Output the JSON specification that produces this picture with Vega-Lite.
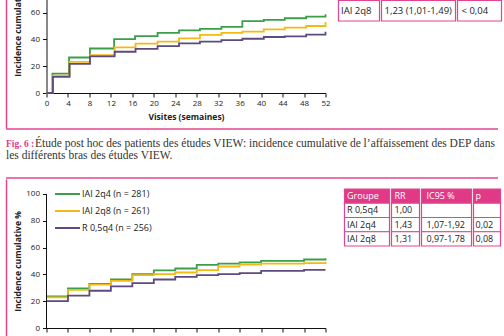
{
  "$schema": "https://vega.github.io/schema/vega-lite/v6.json",
  "padding": {"left": 5, "top": -45, "right": 0, "bottom": 0},
  "background": "white",
  "config": {
    "view": {"stroke": null},
    "font": "Open Sans",
    "axis": {"labelFont": "Open Sans", "labelFontSize": 8, "labelColor": "#222", "labelOverlap": false, "titleFont": "Open Sans", "titleFontSize": 8.5, "titleFontWeight": "bold", "titleColor": "#222", "domainColor": "#111", "tickColor": "#111", "tickSize": 4, "grid": false}
  },
  "datasets": {
    "one": [{"v": 0}],
    "top": [
      {"g": "IAI 2q4", "w": 0, "v": 0}, {"g": "IAI 2q4", "w": 1.1, "v": 14.5}, {"g": "IAI 2q4", "w": 4.2, "v": 26.5}, {"g": "IAI 2q4", "w": 8.1, "v": 33.2}, {"g": "IAI 2q4", "w": 12.6, "v": 40.2}, {"g": "IAI 2q4", "w": 16.5, "v": 42.5}, {"g": "IAI 2q4", "w": 20.7, "v": 44.8}, {"g": "IAI 2q4", "w": 24.7, "v": 46.8}, {"g": "IAI 2q4", "w": 28.6, "v": 47.8}, {"g": "IAI 2q4", "w": 32.6, "v": 49.3}, {"g": "IAI 2q4", "w": 36.5, "v": 53.6}, {"g": "IAI 2q4", "w": 40.5, "v": 54.5}, {"g": "IAI 2q4", "w": 44.4, "v": 55.8}, {"g": "IAI 2q4", "w": 48.4, "v": 57}, {"g": "IAI 2q4", "w": 52, "v": 58.8},
      {"g": "IAI 2q8", "w": 0, "v": 0}, {"g": "IAI 2q8", "w": 1.2, "v": 13}, {"g": "IAI 2q8", "w": 4.3, "v": 23.2}, {"g": "IAI 2q8", "w": 8.1, "v": 28.3}, {"g": "IAI 2q8", "w": 12.7, "v": 34}, {"g": "IAI 2q8", "w": 16.6, "v": 36.8}, {"g": "IAI 2q8", "w": 20.7, "v": 38.3}, {"g": "IAI 2q8", "w": 24.7, "v": 40.8}, {"g": "IAI 2q8", "w": 28.6, "v": 43.4}, {"g": "IAI 2q8", "w": 32.6, "v": 44.8}, {"g": "IAI 2q8", "w": 36.5, "v": 45.8}, {"g": "IAI 2q8", "w": 40.5, "v": 47.5}, {"g": "IAI 2q8", "w": 44.4, "v": 48.8}, {"g": "IAI 2q8", "w": 48.4, "v": 50}, {"g": "IAI 2q8", "w": 52, "v": 53},
      {"g": "R 0,5q4", "w": 0, "v": 0}, {"g": "R 0,5q4", "w": 1.2, "v": 12}, {"g": "R 0,5q4", "w": 4.3, "v": 21.7}, {"g": "R 0,5q4", "w": 8.1, "v": 27.3}, {"g": "R 0,5q4", "w": 12.7, "v": 30.8}, {"g": "R 0,5q4", "w": 16.6, "v": 33}, {"g": "R 0,5q4", "w": 20.7, "v": 35}, {"g": "R 0,5q4", "w": 24.7, "v": 37}, {"g": "R 0,5q4", "w": 28.6, "v": 38.3}, {"g": "R 0,5q4", "w": 32.6, "v": 39.5}, {"g": "R 0,5q4", "w": 36.5, "v": 40.5}, {"g": "R 0,5q4", "w": 40.5, "v": 41.8}, {"g": "R 0,5q4", "w": 44.4, "v": 42.3}, {"g": "R 0,5q4", "w": 48.4, "v": 43.5}, {"g": "R 0,5q4", "w": 52, "v": 45.8}
    ],
    "bottom": [
      {"g": "IAI 2q4 (n = 281)", "w": 0, "v": 23.5}, {"g": "IAI 2q4 (n = 281)", "w": 4, "v": 29.5}, {"g": "IAI 2q4 (n = 281)", "w": 8, "v": 33}, {"g": "IAI 2q4 (n = 281)", "w": 12, "v": 36.2}, {"g": "IAI 2q4 (n = 281)", "w": 16, "v": 40.2}, {"g": "IAI 2q4 (n = 281)", "w": 20, "v": 43}, {"g": "IAI 2q4 (n = 281)", "w": 24, "v": 44.4}, {"g": "IAI 2q4 (n = 281)", "w": 28, "v": 47.1}, {"g": "IAI 2q4 (n = 281)", "w": 32, "v": 48.1}, {"g": "IAI 2q4 (n = 281)", "w": 36, "v": 48.9}, {"g": "IAI 2q4 (n = 281)", "w": 40, "v": 50.1}, {"g": "IAI 2q4 (n = 281)", "w": 48, "v": 51.1}, {"g": "IAI 2q4 (n = 281)", "w": 52, "v": 52.1},
      {"g": "IAI 2q8 (n = 261)", "w": 0, "v": 22.8}, {"g": "IAI 2q8 (n = 261)", "w": 4, "v": 28.5}, {"g": "IAI 2q8 (n = 261)", "w": 8, "v": 32.3}, {"g": "IAI 2q8 (n = 261)", "w": 12, "v": 35.2}, {"g": "IAI 2q8 (n = 261)", "w": 16, "v": 39.5}, {"g": "IAI 2q8 (n = 261)", "w": 20, "v": 40.2}, {"g": "IAI 2q8 (n = 261)", "w": 24, "v": 41.4}, {"g": "IAI 2q8 (n = 261)", "w": 28, "v": 43.2}, {"g": "IAI 2q8 (n = 261)", "w": 32, "v": 45.9}, {"g": "IAI 2q8 (n = 261)", "w": 36, "v": 47.4}, {"g": "IAI 2q8 (n = 261)", "w": 40, "v": 48.1}, {"g": "IAI 2q8 (n = 261)", "w": 48, "v": 48.4}, {"g": "IAI 2q8 (n = 261)", "w": 52, "v": 49.4},
      {"g": "R 0,5q4 (n = 256)", "w": 0, "v": 20.1}, {"g": "R 0,5q4 (n = 256)", "w": 4, "v": 24.1}, {"g": "R 0,5q4 (n = 256)", "w": 8, "v": 27.8}, {"g": "R 0,5q4 (n = 256)", "w": 12, "v": 31}, {"g": "R 0,5q4 (n = 256)", "w": 16, "v": 33.5}, {"g": "R 0,5q4 (n = 256)", "w": 20, "v": 36.2}, {"g": "R 0,5q4 (n = 256)", "w": 24, "v": 38.2}, {"g": "R 0,5q4 (n = 256)", "w": 28, "v": 39.5}, {"g": "R 0,5q4 (n = 256)", "w": 32, "v": 40.2}, {"g": "R 0,5q4 (n = 256)", "w": 36, "v": 41}, {"g": "R 0,5q4 (n = 256)", "w": 40, "v": 42.7}, {"g": "R 0,5q4 (n = 256)", "w": 48, "v": 43.4}, {"g": "R 0,5q4 (n = 256)", "w": 52, "v": 43.4}
    ],
    "toptable": [
      {"col": "c1", "row": "r", "text": "IAI 2q8"},
      {"col": "c2", "row": "r", "text": "1,23 (1,01-1,49)"},
      {"col": "c3", "row": "r", "text": "< 0,04"}
    ],
    "bottable": [
      {"col": "Groupe", "row": "h", "text": "Groupe"}, {"col": "RR", "row": "h", "text": "RR"}, {"col": "IC", "row": "h", "text": "IC95 %"}, {"col": "p", "row": "h", "text": "p"},
      {"col": "Groupe", "row": "1", "text": "R 0,5q4"}, {"col": "RR", "row": "1", "text": "1,00"}, {"col": "IC", "row": "1", "text": ""}, {"col": "p", "row": "1", "text": ""},
      {"col": "Groupe", "row": "2", "text": "IAI 2q4"}, {"col": "RR", "row": "2", "text": "1,43"}, {"col": "IC", "row": "2", "text": "1,07-1,92"}, {"col": "p", "row": "2", "text": "0,02"},
      {"col": "Groupe", "row": "3", "text": "IAI 2q8"}, {"col": "RR", "row": "3", "text": "1,31"}, {"col": "IC", "row": "3", "text": "0,97-1,78"}, {"col": "p", "row": "3", "text": "0,08"}
    ],
    "caption": [
      {"part": "label", "line": 1, "text": "Fig. 6 :"},
      {"part": "body1", "line": 1, "text": "Étude post hoc des patients des études VIEW: incidence cumulative de l’affaissement des DEP dans"},
      {"part": "body2", "line": 2, "text": "les différents bras des études VIEW."}
    ]
  },
  "spacing": 0,
  "resolve": {"scale": {"color": "independent"}, "legend": {"color": "independent"}},
  "vconcat": [
    {
      "spacing": 5.5,
      "resolve": {"scale": {"color": "independent"}, "legend": {"color": "independent"}},
      "hconcat": [
        {"width": 1, "height": 169, "data": {"name": "one"}, "mark": {"type": "point", "size": 0, "opacity": 0},
         "encoding": {"y": {"field": "v", "type": "quantitative", "scale": {"domain": [0, 1]}, "axis": {"orient": "left", "domainColor": "#e2458e", "domainWidth": 1.5, "ticks": false, "labels": false, "title": null}}}},
        {
          "spacing": 7,
          "hconcat": [
            {
              "width": 279, "height": 134,
              "data": {"name": "top"},
              "mark": {"type": "line", "interpolate": "step-after", "strokeWidth": 1.8},
              "encoding": {
                "x": {"field": "w", "type": "quantitative", "scale": {"domain": [0, 52], "nice": false}, "axis": {"values": [0,4,8,12,16,20,24,28,32,36,40,44,48,52], "labelFlush": false, "labelOverlap": false, "title": "Visites (semaines)", "titlePadding": 5, "labelPadding": 2}},
                "y": {"field": "v", "type": "quantitative", "scale": {"domain": [0, 100], "nice": false}, "axis": {"values": [0,20,40,60,80,100], "labelOverlap": false, "title": "Incidence cumulative %", "minExtent": 21, "maxExtent": 21, "titlePadding": 3.5, "labelPadding": 3}},
                "color": {"field": "g", "type": "nominal", "scale": {"domain": ["IAI 2q4", "IAI 2q8", "R 0,5q4"], "range": ["#3a9e4a", "#f5b914", "#5d4a80"]}, "legend": null}
              }
            },
            {
              "spacing": 3.5,
              "hconcat": [
                {
                  "spacing": 0,
                  "hconcat": [
                    {"width": 41, "height": 62, "data": {"name": "toptable"}, "transform": [{"filter": "datum.col == 'c1'"}],
                     "encoding": {"y": {"field": "row", "type": "nominal", "scale": {"domain": ["r"], "paddingInner": 0, "paddingOuter": 1.32, "align": 1}, "axis": null}},
                     "layer": [
                       {"mark": {"type": "rect", "fill": "white", "stroke": "#e2458e", "strokeWidth": 1.2}},
                       {"mark": {"type": "text", "align": "left", "baseline": "middle", "dx": 2.5, "font": "Open Sans", "fontSize": 9.5, "color": "#222"}, "encoding": {"x": {"value": 0}, "text": {"field": "text"}}}
                     ]},
                    {"width": 74, "height": 62, "data": {"name": "toptable"}, "transform": [{"filter": "datum.col == 'c2'"}],
                     "encoding": {"y": {"field": "row", "type": "nominal", "scale": {"domain": ["r"], "paddingInner": 0, "paddingOuter": 1.32, "align": 1}, "axis": null}},
                     "layer": [
                       {"mark": {"type": "rect", "fill": "white", "stroke": "#e2458e", "strokeWidth": 1.2}},
                       {"mark": {"type": "text", "align": "left", "baseline": "middle", "dx": 3, "font": "Open Sans", "fontSize": 9.5, "color": "#222"}, "encoding": {"x": {"value": 0}, "text": {"field": "text"}}}
                     ]},
                    {"width": 44, "height": 62, "data": {"name": "toptable"}, "transform": [{"filter": "datum.col == 'c3'"}],
                     "encoding": {"y": {"field": "row", "type": "nominal", "scale": {"domain": ["r"], "paddingInner": 0, "paddingOuter": 1.32, "align": 1}, "axis": null}},
                     "layer": [
                       {"mark": {"type": "rect", "fill": "white", "stroke": "#e2458e", "strokeWidth": 1.2}},
                       {"mark": {"type": "text", "align": "left", "baseline": "middle", "dx": 4, "font": "Open Sans", "fontSize": 9.5, "color": "#222"}, "encoding": {"x": {"value": 0}, "text": {"field": "text"}}}
                     ]}
                  ]
                },
                {"width": 1, "height": 169, "data": {"name": "one"}, "mark": {"type": "point", "size": 0, "opacity": 0},
                 "encoding": {"y": {"field": "v", "type": "quantitative", "scale": {"domain": [0, 1]}, "axis": {"orient": "left", "domainColor": "#e2458e", "domainWidth": 1.5, "ticks": false, "labels": false, "title": null}}}}
              ]
            }
          ]
        }
      ]
    },
    {
      "width": 492, "height": 49,
      "view": {"stroke": "#e2458e", "strokeWidth": 1.5, "strokeDash": [492, 49], "fill": null},
      "data": {"name": "caption"},
      "layer": [
        {"transform": [{"filter": "datum.part == 'label'"}],
         "mark": {"type": "text", "align": "left", "baseline": "middle", "font": "Liberation Serif", "fontSize": 9.5, "fontWeight": "bold", "color": "#e03a87"},
         "encoding": {
           "x": {"datum": 0, "type": "quantitative", "scale": {"domain": [0, 1]}, "axis": null},
           "y": {"field": "line", "type": "quantitative", "scale": {"domain": [-0.25, 3.833], "reverse": true, "nice": false, "zero": false}, "axis": null},
           "text": {"field": "text"}}},
        {"transform": [{"filter": "datum.part == 'body1'"}],
         "mark": {"type": "text", "align": "left", "baseline": "middle", "dx": 29, "font": "Liberation Serif", "fontSize": 11.5, "color": "#333"},
         "encoding": {
           "x": {"datum": 0, "type": "quantitative", "scale": {"domain": [0, 1]}, "axis": null},
           "y": {"field": "line", "type": "quantitative", "scale": {"domain": [-0.25, 3.833], "reverse": true, "nice": false, "zero": false}, "axis": null},
           "text": {"field": "text"}}},
        {"transform": [{"filter": "datum.part == 'body2'"}],
         "mark": {"type": "text", "align": "left", "baseline": "middle", "font": "Liberation Serif", "fontSize": 11.5, "color": "#333"},
         "encoding": {
           "x": {"datum": 0, "type": "quantitative", "scale": {"domain": [0, 1]}, "axis": null},
           "y": {"field": "line", "type": "quantitative", "scale": {"domain": [-0.25, 3.833], "reverse": true, "nice": false, "zero": false}, "axis": null},
           "text": {"field": "text"}}}
      ]
    },
    {
      "spacing": 5.5,
      "resolve": {"scale": {"color": "independent"}, "legend": {"color": "independent"}},
      "hconcat": [
        {"width": 1, "height": 165, "data": {"name": "one"}, "mark": {"type": "point", "size": 0, "opacity": 0},
         "encoding": {"y": {"field": "v", "type": "quantitative", "scale": {"domain": [0, 1]}, "axis": {"orient": "left", "domainColor": "#e2458e", "domainWidth": 1.5, "ticks": false, "labels": false, "title": null}}}},
        {
          "spacing": 13,
          "hconcat": [
            {
              "width": 279, "height": 149,
              "layer": [
                {
                  "data": {"name": "bottom"},
                  "mark": {"type": "line", "interpolate": "step-after", "strokeWidth": 1.8},
                  "encoding": {
                    "x": {"field": "w", "type": "quantitative", "scale": {"domain": [0, 52], "nice": false}, "axis": {"values": [0,4,8,12,16,20,24,28,32,36,40,44,48,52], "labelFlush": false, "labelOverlap": false, "title": "Visites (semaines)", "titlePadding": 4, "labelPadding": 2}},
                    "y": {"field": "v", "type": "quantitative", "scale": {"domain": [0, 111.19], "nice": false}, "axis": {"values": [0,20,40,60,80,100], "labelOverlap": false, "domain": false, "title": "Incidence cumulative %", "titleY": 82, "minExtent": 21, "maxExtent": 21, "titlePadding": 3.5, "labelPadding": 3}},
                    "color": {"field": "g", "type": "nominal", "scale": {"domain": ["IAI 2q4 (n = 281)", "IAI 2q8 (n = 261)", "R 0,5q4 (n = 256)"], "range": ["#3a9e4a", "#f5b914", "#5d4a80"]},
                      "legend": {"title": null, "orient": "none", "legendX": 14, "legendY": 8, "padding": 0, "symbolType": "M-2.08,0H2.08", "symbolSize": 144, "symbolStrokeWidth": 2, "labelFont": "Open Sans", "labelFontSize": 9, "labelColor": "#222", "rowPadding": 5, "labelOffset": 7.5}}
                  }
                },
                {"data": {"name": "one"}, "mark": {"type": "rule", "color": "#111"},
                 "encoding": {
                   "x": {"datum": 0, "type": "quantitative", "axis": {"values": [0,4,8,12,16,20,24,28,32,36,40,44,48,52], "labelFlush": false, "labelOverlap": false, "title": "Visites (semaines)", "titlePadding": 4, "labelPadding": 2}},
                   "y": {"datum": 0, "type": "quantitative", "axis": {"values": [0,20,40,60,80,100], "labelOverlap": false, "domain": false, "title": "Incidence cumulative %", "titleY": 82, "minExtent": 21, "maxExtent": 21, "titlePadding": 3.5, "labelPadding": 3}},
                   "y2": {"datum": 100}}}
              ]
            },
            {
              "spacing": 5.5,
              "hconcat": [
                {
                  "spacing": 0,
                  "hconcat": [
                    {"width": 45, "height": 67, "data": {"name": "bottable"}, "transform": [{"filter": "datum.col == 'Groupe'"}],
                     "encoding": {"y": {"field": "row", "type": "nominal", "scale": {"domain": ["h", "1", "2", "3"], "paddingInner": 0, "paddingOuter": 0.35, "align": 1}, "axis": null}},
                     "layer": [
                       {"mark": {"type": "rect", "stroke": "#e2458e", "strokeWidth": 1.2}, "encoding": {"fill": {"condition": {"test": "datum.row == 'h'", "value": "#e03a87"}, "value": "white"}}},
                       {"mark": {"type": "text", "align": "left", "baseline": "middle", "dx": 2.5, "font": "Open Sans", "fontSize": 9}, "encoding": {"x": {"value": 0}, "text": {"field": "text"}, "color": {"condition": {"test": "datum.row == 'h'", "value": "white"}, "value": "#222"}, "fontWeight": {"condition": {"test": "datum.row == 'h'", "value": "bold"}, "value": "normal"}}}
                     ]},
                    {"width": 28, "height": 67, "data": {"name": "bottable"}, "transform": [{"filter": "datum.col == 'RR'"}],
                     "encoding": {"y": {"field": "row", "type": "nominal", "scale": {"domain": ["h", "1", "2", "3"], "paddingInner": 0, "paddingOuter": 0.35, "align": 1}, "axis": null}},
                     "layer": [
                       {"mark": {"type": "rect", "stroke": "#e2458e", "strokeWidth": 1.2}, "encoding": {"fill": {"condition": {"test": "datum.row == 'h'", "value": "#e03a87"}, "value": "white"}}},
                       {"mark": {"type": "text", "align": "left", "baseline": "middle", "dx": 3, "font": "Open Sans", "fontSize": 9}, "encoding": {"x": {"value": 0}, "text": {"field": "text"}, "color": {"condition": {"test": "datum.row == 'h'", "value": "white"}, "value": "#222"}, "fontWeight": {"condition": {"test": "datum.row == 'h'", "value": "bold"}, "value": "normal"}}}
                     ]},
                    {"width": 50, "height": 67, "data": {"name": "bottable"}, "transform": [{"filter": "datum.col == 'IC'"}],
                     "encoding": {"y": {"field": "row", "type": "nominal", "scale": {"domain": ["h", "1", "2", "3"], "paddingInner": 0, "paddingOuter": 0.35, "align": 1}, "axis": null}},
                     "layer": [
                       {"mark": {"type": "rect", "stroke": "#e2458e", "strokeWidth": 1.2}, "encoding": {"fill": {"condition": {"test": "datum.row == 'h'", "value": "#e03a87"}, "value": "white"}}},
                       {"mark": {"type": "text", "align": "left", "baseline": "middle", "dx": 5, "font": "Open Sans", "fontSize": 9}, "encoding": {"x": {"value": 0}, "text": {"field": "text"}, "color": {"condition": {"test": "datum.row == 'h'", "value": "white"}, "value": "#222"}, "fontWeight": {"condition": {"test": "datum.row == 'h'", "value": "bold"}, "value": "normal"}}}
                     ]},
                    {"width": 27, "height": 67, "data": {"name": "bottable"}, "transform": [{"filter": "datum.col == 'p'"}],
                     "encoding": {"y": {"field": "row", "type": "nominal", "scale": {"domain": ["h", "1", "2", "3"], "paddingInner": 0, "paddingOuter": 0.35, "align": 1}, "axis": null}},
                     "layer": [
                       {"mark": {"type": "rect", "stroke": "#e2458e", "strokeWidth": 1.2}, "encoding": {"fill": {"condition": {"test": "datum.row == 'h'", "value": "#e03a87"}, "value": "white"}}},
                       {"mark": {"type": "text", "align": "left", "baseline": "middle", "dx": 2, "font": "Open Sans", "fontSize": 9}, "encoding": {"x": {"value": 0}, "text": {"field": "text"}, "color": {"condition": {"test": "datum.row == 'h'", "value": "white"}, "value": "#222"}, "fontWeight": {"condition": {"test": "datum.row == 'h'", "value": "bold"}, "value": "normal"}}}
                     ]}
                  ]
                },
                {"width": 1, "height": 165, "data": {"name": "one"}, "mark": {"type": "point", "size": 0, "opacity": 0},
                 "encoding": {"y": {"field": "v", "type": "quantitative", "scale": {"domain": [0, 1]}, "axis": {"orient": "left", "domainColor": "#e2458e", "domainWidth": 1.5, "ticks": false, "labels": false, "title": null}}}}
              ]
            }
          ]
        }
      ]
    }
  ]
}
